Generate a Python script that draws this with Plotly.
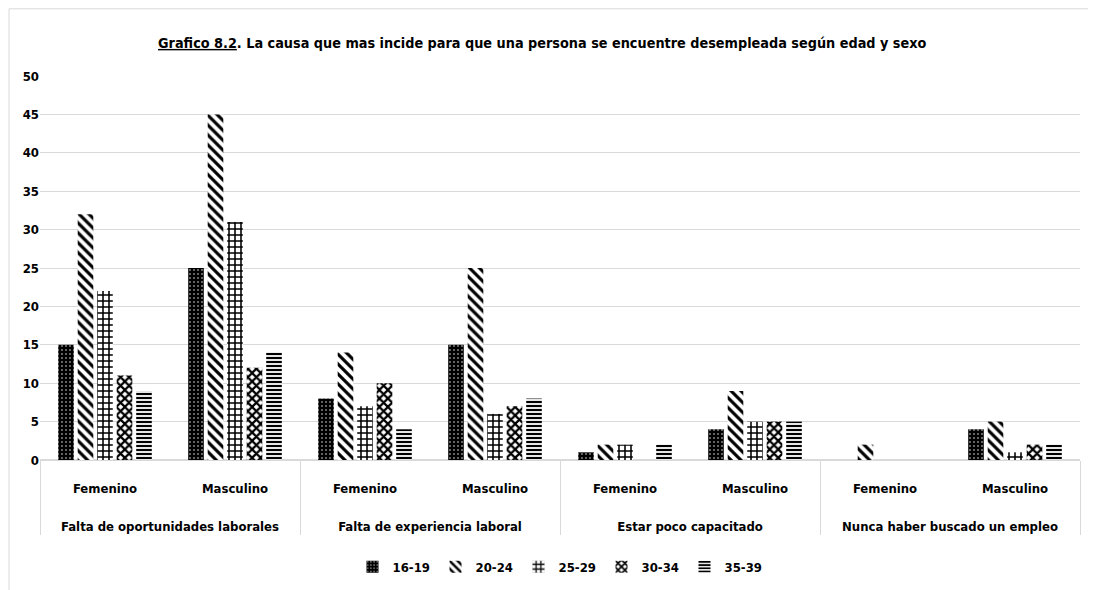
import plotly.graph_objects as go

causes = ["Falta de oportunidades laborales", "Falta de experiencia laboral",
          "Estar poco capacitado", "Nunca haber buscado un empleo"]
sexes = ["Femenino", "Masculino"]
age_groups = ["16-19", "20-24", "25-29", "30-34", "35-39"]

# values per age group, ordered: (cause1 F, cause1 M, cause2 F, cause2 M, ...)
v_16_19 = [15, 25, 8, 15, 1, 4, 0, 4]
v_20_24 = [32, 45, 14, 25, 2, 9, 2, 5]
v_25_29 = [22, 31, 7, 6, 2, 5, 0, 1]
v_30_34 = [11, 12, 10, 7, 0, 5, 0, 2]
v_35_39 = [9, 14, 4, 8, 2, 5, 0, 2]
series = [v_16_19, v_20_24, v_25_29, v_30_34, v_35_39]

x_outer = [c for c in causes for _ in sexes]
x_inner = [s + "<br> <br><span style='font-size:30px'>&nbsp;</span>" for _ in causes for s in sexes]

styles = [
    dict(shape=".", bgcolor="black", fgcolor="white", size=4, solidity=0.1),
    dict(shape="\\", bgcolor="white", fgcolor="black", size=7, solidity=0.45),
    dict(shape="+", bgcolor="white", fgcolor="black", size=6, solidity=0.45),
    dict(shape="x", bgcolor="white", fgcolor="black", size=6, solidity=0.6),
    dict(shape="-", bgcolor="white", fgcolor="black", size=4, solidity=0.55),
]

FONT = "DejaVu Sans Condensed, Liberation Sans Narrow, Arial Narrow, sans-serif"

fig = go.Figure()
for name, vals, st in zip(age_groups, series, styles):
    fig.add_trace(go.Bar(
        x=[x_outer, x_inner], y=vals, name=name,
        marker=dict(color=st["bgcolor"], line=dict(width=0),
                    pattern=dict(shape=st["shape"], bgcolor=st["bgcolor"],
                                 fgcolor=st["fgcolor"], size=st["size"],
                                 solidity=st["solidity"], fillmode="replace")),
    ))

fig.update_layout(
    width=1088, height=582,
    margin=dict(l=32, r=16, t=68, b=130, autoexpand=False),
    paper_bgcolor="white", plot_bgcolor="white",
    barmode="group", bargap=0.25, bargroupgap=0.2,
    font=dict(family=FONT, size=13, color="black", weight="bold"),
    title=dict(text="<u>Grafico 8.2</u>. La causa que mas incide para que una persona se encuentre desempleada según edad y sexo",
               x=0.491, xanchor="center", xref="container", y=0.94, yanchor="middle",
               font=dict(family=FONT, size=14.3, color="black", weight="bold")),
    legend=dict(orientation="h", x=0.5, xanchor="center", xref="paper",
                y=0.04, yanchor="middle", yref="container",
                font=dict(family=FONT, size=13, color="black", weight="bold"),
                itemwidth=30, tracegroupgap=0, entrywidth=38, entrywidthmode="pixels"),
    showlegend=True,
)
fig.update_yaxes(range=[0, 50], dtick=5, showgrid=True, gridcolor="#d9d9d9",
                 gridwidth=1, zeroline=True, zerolinecolor="#d9d9d9",
                 tickfont=dict(family=FONT, size=13, color="black", weight="bold"),
                 ticks="", showline=False, automargin=False)
fig.update_xaxes(type="multicategory", showgrid=False, showline=True,
                 linecolor="#d9d9d9", dividercolor="#d9d9d9", dividerwidth=1,
                 ticklabelstandoff=16, automargin=False,
                 tickfont=dict(family=FONT, size=13, color="black", weight="bold"))

# chart border (paper coords)
fig.add_shape(type="rect", xref="paper", yref="paper", x0=-0.0298, x1=1.03,
              y0=-0.5, y1=1.175, line=dict(color="#d9d9d9", width=1),
              fillcolor="rgba(0,0,0,0)", layer="below")

fig.write_html("out.html")
